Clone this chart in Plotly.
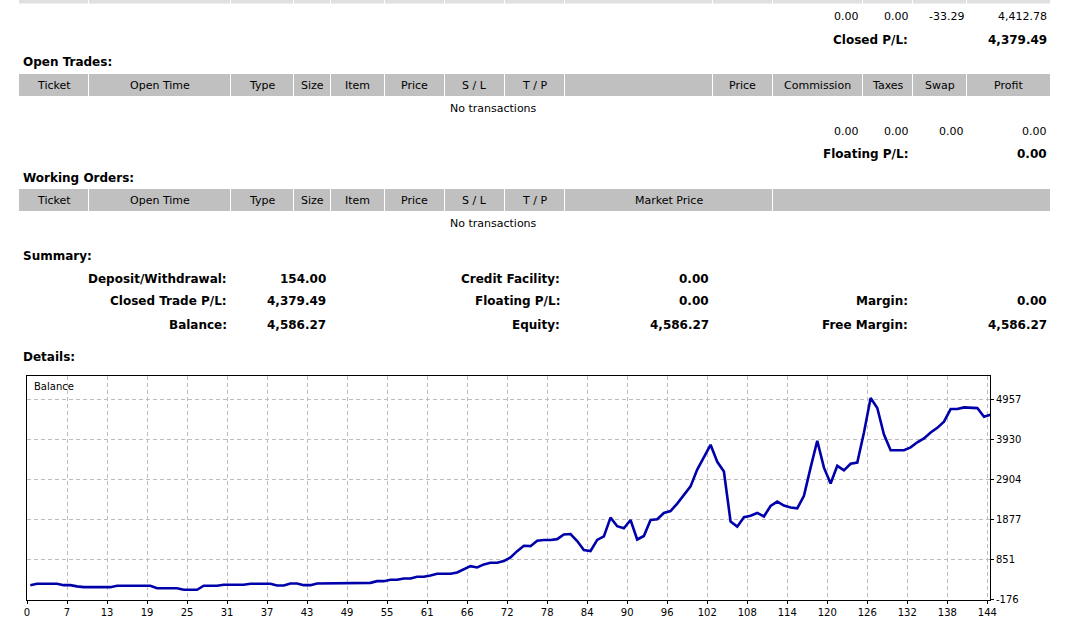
import plotly.graph_objects as go

# ---------------- data ----------------
balance = [
    191, 227, 227, 227, 227, 191, 191, 160, 140, 140,
    140, 140, 140, 176, 176, 176, 176, 176, 176, 114,
    114, 114, 114, 73, 73, 73, 176, 176, 176, 201,
    201, 201, 201, 227, 227, 227, 227, 183, 183, 235,
    235, 191, 191, 235, 235, 235, 235, 235, 235, 235,
    235, 250, 294, 294, 330, 330, 363, 363, 407, 407,
    440, 484, 484, 484, 517, 594, 679, 645, 722, 766,
    766, 807, 900, 1063, 1200, 1190, 1330, 1347, 1347, 1370,
    1490, 1500, 1320, 1090, 1065, 1350, 1440, 1920, 1700, 1647,
    1860, 1360, 1450, 1860, 1880, 2040, 2090, 2280, 2500, 2720,
    3150, 3480, 3785, 3350, 3100, 1820, 1690, 1930, 1970, 2040,
    1950, 2220, 2332, 2230, 2180, 2160, 2480, 3200, 3888, 3200,
    2793, 3246, 3130, 3300, 3330, 4100, 4983, 4730, 4050, 3648,
    3648, 3648, 3720, 3850, 3950, 4100, 4220, 4380, 4701, 4701,
    4744, 4726, 4726, 4504, 4555,
]
x_tick_labels = ["0", "7", "13", "19", "25", "31", "37", "43", "49", "55", "61", "66",
                 "72", "78", "84", "90", "96", "102", "108", "114", "120", "126",
                 "132", "138", "144"]
y_tick_values = [-176, 851, 1877, 2904, 3930, 4957]

header_open = ["Ticket", "Open Time", "Type", "Size", "Item", "Price", "S / L", "T / P",
               "", "Price", "Commission", "Taxes", "Swap", "Profit"]
header_orders = ["Ticket", "Open Time", "Type", "Size", "Item", "Price", "S / L", "T / P",
                 "Market Price", ""]
closed_row = ["0.00", "0.00", "-33.29", "4,412.78"]
closed_pl_label, closed_pl_value = "Closed P/L:", "4,379.49"
floating_row = ["0.00", "0.00", "0.00", "0.00"]
floating_pl_label, floating_pl_value = "Floating P/L:", "0.00"
no_tx = "No transactions"
section_titles = ["Open Trades:", "Working Orders:", "Summary:", "Details:"]
summary_labels = [["Deposit/Withdrawal:", "Closed Trade P/L:", "Balance:"],
                  ["Credit Facility:", "Floating P/L:", "Equity:"],
                  ["", "Margin:", "Free Margin:"]]
summary_values = [["154.00", "4,379.49", "4,586.27"],
                  ["0.00", "0.00", "4,586.27"],
                  ["", "0.00", "4,586.27"]]
series_name = "Balance"

# ---------------- layout helpers ----------------
W, H = 1071, 625
FONT = "DejaVu Sans"


def px(x):
    return x / W


def py(y):
    return 1 - y / H


edges_full = [19, 89, 231, 294, 331, 385, 445, 505, 565, 713, 773, 863, 913, 967, 1051]
edges_orders = [19, 89, 231, 294, 331, 385, 445, 505, 565, 773, 1051]
right_cols = [860, 910, 965, 1048]

shapes = []
annotations = []


def band(edges, y0, y1, color):
    for a, b in zip(edges[:-1], edges[1:]):
        shapes.append(dict(type="rect", xref="paper", yref="paper",
                           x0=px(a), x1=px(b - 1), y0=py(y1), y1=py(y0),
                           fillcolor=color, line=dict(width=0), layer="below"))


def text(t, x, y, anchor="left", bold=False, size=None):
    annotations.append(dict(
        text=f"<b>{t}</b>" if bold else t, x=px(x), y=py(y), xref="paper", yref="paper",
        xanchor=anchor, yanchor="middle", showarrow=False, borderpad=0,
        font=dict(family=FONT, size=size or (12 if bold else 11), color="#000000")))


# top (cut) row of previous table
band(edges_full, -2, 3.5, "#E0E0E0")
for v, xr in zip(closed_row, right_cols):
    text(v, xr, 16.7, "right")
text(closed_pl_label, 909, 39.5, "right", bold=True)
text(closed_pl_value, 1048, 39.5, "right", bold=True)

# open trades
text(section_titles[0], 22, 62, bold=True)
band(edges_full, 74, 96, "#C0C0C0")
for lab, a, b in zip(header_open, edges_full[:-1], edges_full[1:]):
    if lab:
        text(lab, (a + b - 1) / 2, 85.5, "center")
text(no_tx, 493, 108.5, "center")
for v, xr in zip(floating_row, right_cols):
    text(v, xr, 131.5, "right")
text(floating_pl_label, 909, 154.5, "right", bold=True)
text(floating_pl_value, 1048, 154.5, "right", bold=True)

# working orders
text(section_titles[1], 22, 177.5, bold=True)
band(edges_orders, 189, 211, "#C0C0C0")
for lab, a, b in zip(header_orders, edges_orders[:-1], edges_orders[1:]):
    if lab:
        text(lab, (a + b - 1) / 2, 200.5, "center")
text(no_tx, 493, 223.5, "center")

# summary
text(section_titles[2], 22, 256, bold=True)
label_right = [228, 561, 909]
value_right = [327, 710, 1048]
row_y = [278.5, 301.5, 324.5]
for c in range(3):
    for r in range(3):
        if summary_labels[c][r]:
            text(summary_labels[c][r], label_right[c], row_y[r], "right", bold=True)
            text(summary_values[c][r], value_right[c], row_y[r], "right", bold=True)

# details
text(section_titles[3], 22, 356.5, bold=True)
text(series_name, 32.5, 386.5, "left", size=10)

# ---------------- chart ----------------
plot_left, plot_right, plot_top, plot_bottom = 27, 990, 376, 599.5
x_range = [-0.5, 143.9]
n_grid = len(x_tick_labels)
step = 6
x_tickvals = [x_range[0] + k * step for k in range(n_grid)]
y_top = y_tick_values[-1] + (y_tick_values[-1] - y_tick_values[-2]) * 23 / 40

fig = go.Figure()
fig.add_trace(go.Scatter(
    x=list(range(len(balance))), y=balance, mode="lines",
    line=dict(color="#0000AA", width=2.6), hoverinfo="skip", showlegend=False))

axis_common = dict(
    showgrid=True, gridcolor="#BDBDBD", griddash="4px,3px", gridwidth=1,
    showline=True, mirror=True, linecolor="#000000", linewidth=1,
    ticks="outside", ticklen=3, tickcolor="#000000", tickwidth=1,
    tickfont=dict(family=FONT, size=10, color="#000000"),
    zeroline=False, fixedrange=True, automargin=False)

fig.update_layout(
    width=W, height=H, margin=dict(l=0, r=0, t=0, b=0),
    paper_bgcolor="white", plot_bgcolor="white",
    xaxis=dict(domain=[px(plot_left), px(plot_right)], range=x_range,
               tickmode="array", tickvals=x_tickvals, ticktext=x_tick_labels,
               **axis_common),
    yaxis=dict(domain=[py(plot_bottom), py(plot_top)], range=[y_tick_values[0], y_top],
               side="right", tickmode="array", tickvals=y_tick_values,
               ticktext=[str(v) for v in y_tick_values], **axis_common),
    shapes=shapes, annotations=annotations, showlegend=False)

fig.write_html("out.html", config={"displayModeBar": False, "staticPlot": True})
